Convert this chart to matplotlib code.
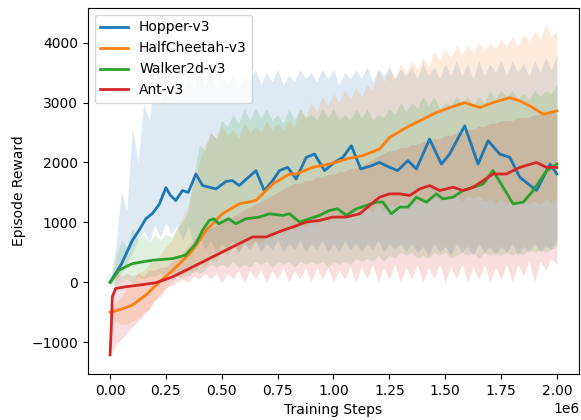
import numpy as np
import matplotlib.pyplot as plt

names = ['Hopper-v3', 'HalfCheetah-v3', 'Walker2d-v3', 'Ant-v3']

# smoothed curves (x in millions of steps)
hopper_x = [0, 0.05, 0.10, 0.13, 0.16, 0.19, 0.22, 0.25, 0.27, 0.294, 0.324, 0.35, 0.384, 0.414,
            0.474, 0.519, 0.548, 0.578, 0.608, 0.653, 0.69, 0.728, 0.758, 0.795, 0.833, 0.878,
            0.915, 0.96, 1.004, 1.042, 1.08, 1.122, 1.169, 1.206, 1.251, 1.287, 1.333, 1.371,
            1.43, 1.483, 1.52, 1.587, 1.647, 1.692, 1.744, 1.789, 1.834, 1.909, 1.969, 2.0]
hopper_y = [0, 300, 700, 870, 1060, 1150, 1300, 1580, 1450, 1365, 1531, 1500, 1807, 1614,
            1558, 1683, 1697, 1614, 1715, 1863, 1530, 1697, 1863, 1918, 1724, 2085,
            2140, 1863, 2000, 2085, 2279, 1890, 1945, 2000, 1918, 1863, 2030, 1890,
            2389, 1973, 2140, 2611, 1973, 2362, 2140, 2085, 1752, 1531, 1973, 1807]

cheetah_x = [0, 0.05, 0.10, 0.16, 0.22, 0.28, 0.33, 0.37, 0.43, 0.503, 0.578, 0.653, 0.728,
             0.803, 0.833, 0.907, 0.982, 1.057, 1.131, 1.206, 1.251, 1.326, 1.40, 1.46, 1.52,
             1.587, 1.655, 1.714, 1.789, 1.834, 1.879, 1.939, 2.0]
cheetah_y = [-500, -450, -380, -213, 0, 200, 380, 535, 867, 1143, 1309, 1365, 1641,
             1807, 1807, 1918, 1973, 2057, 2113, 2223, 2417, 2583, 2721, 2832, 2915,
             2998, 2915, 2998, 3081, 3026, 2943, 2804, 2860]

walker_x = [0, 0.04, 0.10, 0.19, 0.28, 0.337, 0.384, 0.414, 0.444, 0.464, 0.486, 0.53, 0.563,
            0.608, 0.668, 0.713, 0.773, 0.803, 0.848, 0.892, 0.937, 0.982, 1.019, 1.057, 1.102,
            1.147, 1.191, 1.221, 1.259, 1.296, 1.333, 1.371, 1.416, 1.46, 1.49, 1.535, 1.58,
            1.625, 1.67, 1.714, 1.759, 1.804, 1.849, 1.894, 1.954, 2.0]
walker_y = [0, 202, 312, 368, 395, 451, 644, 867, 1032, 1060, 977, 1060, 977,
            1060, 1088, 1143, 1115, 1143, 1005, 1060, 1115, 1199, 1226, 1115, 1226,
            1282, 1337, 1337, 1143, 1254, 1254, 1420, 1337, 1475, 1392, 1420, 1531,
            1586, 1641, 1863, 1586, 1309, 1337, 1531, 1863, 1973]

ant_x = [0, 0.005, 0.01, 0.025, 0.07, 0.13, 0.205, 0.28, 0.37, 0.459, 0.548, 0.638, 0.698,
         0.773, 0.818, 0.878, 0.937, 0.997, 1.057, 1.117, 1.162, 1.206, 1.251, 1.296, 1.341,
         1.386, 1.43, 1.475, 1.535, 1.58, 1.625, 1.67, 1.714, 1.774, 1.834, 1.909, 1.954, 2.0]
ant_y = [-1210, -800, -241, -103, -75, -47, -8, 91, 257, 424, 590, 756, 756,
         867, 922, 1005, 1032, 1088, 1088, 1143, 1282, 1420, 1475, 1475, 1448,
         1558, 1614, 1531, 1586, 1531, 1586, 1697, 1807, 1807, 1918, 2000, 1918, 1918]

# raw reward envelopes, every 0.025M steps
band_x = np.linspace(0, 2.0, 81)
hopper_hi = [0, 600, 1500, 1200, 2600, 2000, 3000, 2700, 3500,
             3000, 3400, 3100, 3500, 3200, 3450, 3250, 3500, 3300,
             3550, 3250, 3450, 3300, 3500, 3250, 3450, 3350, 3550,
             3300, 3500, 3350, 3550, 3300, 3450, 3350, 3550, 3400,
             3500, 3350, 3550, 3400, 3550, 3300, 3500, 3400, 3550,
             3400, 3600, 3350, 3550, 3450, 3600, 3400, 3550, 3450,
             3600, 3400, 3650, 3450, 3600, 3400, 3650, 3450, 3700,
             3450, 3650, 3400, 3700, 3450, 3650, 3500, 3700, 3450,
             3700, 3500, 3650, 3450, 3700, 3500, 3750, 3550, 3800]
hopper_lo = [-50, 50, 150, 300, 500, 700, 850, 650, 950,
             750, 1000, 800, 950, 700, 950, 600, 750, 550,
             700, 500, 650, 550, 700, 500, 650, 550, 700,
             500, 650, 550, 700, 500, 650, 550, 700, 500,
             650, 550, 700, 500, 650, 500, 700, 550, 650,
             500, 650, 550, 700, 500, 650, 550, 650, 500,
             650, 500, 600, 450, 650, 500, 600, 450, 650,
             500, 600, 450, 650, 500, 600, 450, 600, 500,
             650, 450, 600, 500, 650, 500, 600, 550, 700]
cheetah_hi = [-450, -350, -250, -100, 0, 150, 200, 300, 400,
              450, 600, 700, 900, 1100, 1300, 1700, 2000, 2300,
              2500, 2400, 2600, 2450, 2550, 2400, 2650, 2500, 2600,
              2500, 2700, 2550, 2650, 2550, 2700, 2600, 2900, 2750,
              3000, 2850, 3100, 2950, 3150, 3000, 3200, 3050, 3250,
              3100, 3300, 3200, 3550, 3350, 3550, 3400, 3650, 3500,
              3700, 3550, 3750, 3600, 3850, 3700, 3900, 3750, 3950,
              3800, 3950, 3850, 4000, 3850, 4000, 3900, 4050, 3950,
              4100, 3950, 4150, 4000, 4200, 4050, 4300, 4100, 4200]
cheetah_lo = [-550, -650, -700, -700, -650, -600, -500, -450, -300,
              -250, -100, 0, 100, 50, 200, 150, 300, 250,
              400, 350, 500, 450, 600, 500, 700, 600, 700,
              650, 800, 700, 900, 800, 950, 850, 1000, 900,
              1050, 950, 1100, 1000, 1150, 1050, 1150, 1100, 1200,
              1100, 1250, 1150, 1300, 1200, 1300, 1250, 1350, 1300,
              1400, 1300, 1400, 1350, 1450, 1350, 1450, 1400, 1450,
              1350, 1450, 1400, 1450, 1350, 1400, 1300, 1400, 1300,
              1350, 1300, 1400, 1300, 1350, 1300, 1400, 1350, 1400]
walker_hi = [0, 400, 700, 600, 900, 700, 800, 650, 800,
             700, 800, 750, 900, 1000, 1200, 1800, 2300, 2200,
             2500, 2400, 2700, 2600, 2800, 2650, 2900, 2700, 2900,
             2750, 2900, 2700, 2800, 2650, 2900, 2700, 2900, 2750,
             2800, 2700, 2900, 2750, 2900, 2700, 2800, 2700, 2900,
             2750, 2900, 2700, 2800, 2750, 2900, 2800, 3000, 2850,
             3000, 2900, 3100, 2950, 3100, 2900, 3000, 2950, 3100,
             3000, 3100, 2950, 3100, 3000, 3200, 3050, 3200, 3100,
             3200, 3050, 3150, 3050, 3200, 3100, 3200, 3150, 3300]
walker_lo = [-50, -50, 0, 50, 0, 100, 50, 100, 100,
             150, 100, 150, 100, 150, 100, 200, 150, 200,
             300, 250, 300, 250, 350, 250, 300, 250, 350,
             300, 350, 250, 350, 300, 350, 250, 350, 300,
             350, 300, 350, 250, 350, 300, 350, 300, 400,
             350, 400, 350, 450, 350, 450, 400, 500, 450,
             500, 400, 450, 400, 500, 450, 500, 400, 450,
             500, 450, 500, 400, 500, 450, 500, 450, 500,
             450, 500, 450, 550, 500, 550, 500, 550, 600]
ant_hi = [-800, 200, 100, 150, 100, 150, 100, 200, 200,
          250, 250, 350, 400, 500, 600, 700, 800, 850,
          900, 950, 1000, 1050, 1100, 1150, 1200, 1250, 1300,
          1350, 1400, 1450, 1500, 1550, 1600, 1650, 1650, 1700,
          1700, 1750, 1750, 1800, 1800, 1850, 1850, 1900, 1900,
          1950, 2000, 2050, 2100, 2150, 2200, 2200, 2250, 2250,
          2300, 2300, 2350, 2350, 2400, 2400, 2450, 2450, 2500,
          2500, 2550, 2550, 2600, 2600, 2650, 2650, 2700, 2700,
          2700, 2750, 2750, 2750, 2800, 2800, 2800, 2850, 2800]
ant_lo = [-1250, -1050, -950, -850, -750, -650, -550, -450, -300,
          -200, -100, -50, 0, 50, 0, 100, 50, 150,
          50, 150, 0, 150, 50, 200, 0, 200, 50,
          200, 0, 200, 50, 250, 0, 200, 50, 250,
          0, 250, 50, 250, 0, 200, 50, 250, 0,
          250, 50, 300, 0, 250, 50, 300, 0, 250,
          50, 300, 0, 250, 50, 300, 0, 250, 50,
          300, 0, 250, 50, 300, 0, 250, 50, 300,
          0, 300, 100, 350, 0, 350, 200, 400, 300]

curves = [(hopper_x, hopper_y, hopper_lo, hopper_hi),
          (cheetah_x, cheetah_y, cheetah_lo, cheetah_hi),
          (walker_x, walker_y, walker_lo, walker_hi),
          (ant_x, ant_y, ant_lo, ant_hi)]

fig = plt.figure(figsize=(5.81, 4.2), dpi=100)
ax = fig.add_axes([0.151, 0.110, 0.846, 0.871])

for i, (name, (cx, cy, lo, hi)) in enumerate(zip(names, curves)):
    color = 'C%d' % i
    ax.fill_between(band_x * 1e6, lo, hi, color=color, alpha=0.15, linewidth=0)
    ax.plot(np.array(cx) * 1e6, cy, color=color, linewidth=2, label=name)

ax.set_xlim(-0.1e6, 2.1e6)
ax.set_xlabel('Training Steps')
ax.set_ylabel('Episode Reward')
ax.legend(loc='upper left')
fig.savefig('out.png', dpi=100)
